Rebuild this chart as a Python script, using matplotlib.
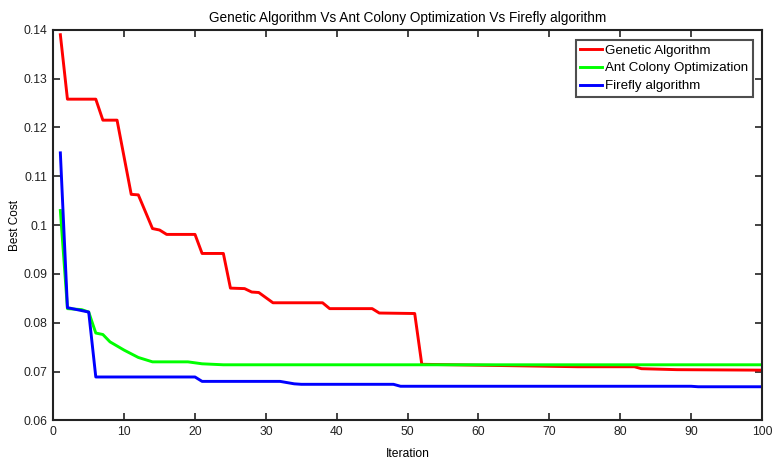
import matplotlib
matplotlib.use("Agg")
import matplotlib.pyplot as plt
from matplotlib.ticker import FixedLocator, FixedFormatter

plt.rcParams['font.family'] = ['Liberation Sans', 'DejaVu Sans']

# Data (iteration breakpoints and best cost values)
ga_iter = [1, 2, 6, 7, 9, 11, 12, 14, 15, 16, 20, 21, 24, 25, 27, 28, 29, 31, 38, 39, 45, 46, 51, 52, 74, 82, 83, 88, 100]
ga_cost = [0.1390, 0.1258, 0.1258, 0.1215, 0.1215, 0.1063, 0.1062, 0.0993, 0.0990, 0.0981, 0.0981, 0.0942, 0.0942,
           0.0871, 0.0870, 0.0863, 0.0862, 0.0841, 0.0841, 0.0829, 0.0829, 0.0820, 0.0819, 0.0715, 0.0710, 0.0710,
           0.0706, 0.0704, 0.0703]

aco_iter = [1, 2, 4, 5, 6, 7, 8, 10, 12, 14, 19, 21, 24, 100]
aco_cost = [0.1030, 0.0829, 0.0827, 0.0822, 0.0779, 0.0776, 0.0761, 0.0744, 0.0729, 0.0720, 0.0720, 0.0716, 0.0714, 0.0714]

ff_iter = [1, 2, 5, 6, 20, 21, 32, 34, 35, 48, 49, 90, 91, 100]
ff_cost = [0.1148, 0.0831, 0.0822, 0.0689, 0.0689, 0.0680, 0.0680, 0.0675, 0.0674, 0.0674, 0.0670, 0.0670, 0.0669, 0.0669]

labels = ["Genetic Algorithm", "Ant Colony Optimization", "Firefly algorithm"]
title = "Genetic Algorithm Vs Ant Colony Optimization Vs Firefly algorithm"
xticks = [0, 10, 20, 30, 40, 50, 60, 70, 80, 90, 100]
yticks = [0.06, 0.07, 0.08, 0.09, 0.10, 0.11, 0.12, 0.13, 0.14]
ytick_labels = ["0.06", "0.07", "0.08", "0.09", "0.1", "0.11", "0.12", "0.13", "0.14"]

fig = plt.figure(figsize=(7.72, 4.59), dpi=100)
ax = fig.add_axes([0.069, 0.084, 0.918, 0.851])

ax.plot(ga_iter, ga_cost, color='#ff0000', lw=2.1, label=labels[0])
ax.plot(aco_iter, aco_cost, color='#00ff00', lw=2.1, label=labels[1])
ax.plot(ff_iter, ff_cost, color='#0000ff', lw=2.1, label=labels[2])

ax.set_xlim(0, 100)
ax.set_ylim(0.06, 0.14)
ax.xaxis.set_major_locator(FixedLocator(xticks))
ax.yaxis.set_major_locator(FixedLocator(yticks))
ax.yaxis.set_major_formatter(FixedFormatter(ytick_labels))
ax.tick_params(direction='in', top=True, right=True, length=5, width=1.2, labelsize=8.7, colors='#222222', pad=4)
for s in ax.spines.values():
    s.set_linewidth(1.5)
    s.set_color('#222222')

ax.set_title(title, fontsize=9.8, pad=6)
ax.set_xlabel("Iteration", fontsize=8.7, labelpad=7)
ax.set_ylabel("Best Cost", fontsize=8.5, labelpad=2)

leg = ax.legend(loc='upper right', bbox_to_anchor=(0.991, 0.982), fontsize=9.6, frameon=True, fancybox=False,
                handlelength=1.6, handletextpad=0.25, borderpad=0.35, labelspacing=0.42, borderaxespad=0.2)
leg.get_frame().set_edgecolor('#222222')
leg.get_frame().set_linewidth(1.5)

fig.savefig("out.png", dpi=100)
